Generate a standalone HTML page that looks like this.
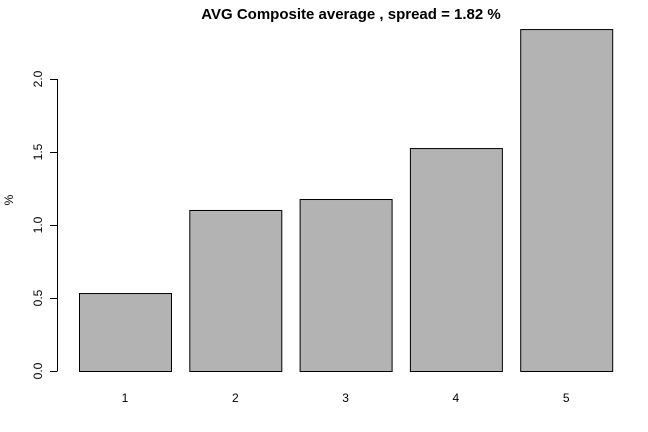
<!DOCTYPE html>
<html><head><meta charset="utf-8"><style>
body{margin:0;background:#fff}
svg{display:block;font-family:"Liberation Sans",Arial,sans-serif}
</style></head><body>
<svg id="chart" width="648" height="432" viewBox="0 0 648 432">
<text x="351" y="19" text-anchor="middle" font-size="15" font-weight="bold">AVG Composite average , spread = 1.82 %</text>
<text transform="translate(13,200) rotate(-90)" text-anchor="middle" font-size="12">%</text>
<g id="bars"></g>
<g id="yaxis"></g>
<g id="xlabels"></g>
</svg>
<script>
const categories = ["1","2","3","4","5"];
const values = [0.534, 1.103, 1.178, 1.527, 2.342];
const yTicks = [0, 0.5, 1.0, 1.5, 2.0];
const yTickLabels = ["0.0","0.5","1.0","1.5","2.0"];
const NS="http://www.w3.org/2000/svg";
function y(v){return 371 - v*146;}
function x(i){return 79 + i*110.3;}
const bw=92;
const bars=document.getElementById('bars');
values.forEach((v,i)=>{
  const r=document.createElementNS(NS,'rect');
  r.setAttribute('x',x(i)+0.5);r.setAttribute('y',y(v)+0.5);
  r.setAttribute('width',bw);r.setAttribute('height',y(0)-y(v));
  r.setAttribute('fill','#b3b3b3');r.setAttribute('stroke','#000');r.setAttribute('stroke-width','1');
  
  
  bars.appendChild(r);
  const t=document.createElementNS(NS,'text');
  t.setAttribute('x',x(i)+bw/2);t.setAttribute('y',402);
  t.setAttribute('text-anchor','middle');t.setAttribute('font-size','12');
  t.textContent=categories[i];
  
  
  document.getElementById('xlabels').appendChild(t);
});
const ya=document.getElementById('yaxis');
const ax=document.createElementNS(NS,'line');
ax.setAttribute('x1',57.5);ax.setAttribute('x2',57.5);
ax.setAttribute('y1',y(yTicks[0]));ax.setAttribute('y2',y(yTicks[yTicks.length-1]));
ax.setAttribute('stroke','#000');


ya.appendChild(ax);
yTicks.forEach((v,i)=>{
  const l=document.createElementNS(NS,'line');
  l.setAttribute('x1',50);l.setAttribute('x2',57.5);
  l.setAttribute('y1',y(v)+0.5);l.setAttribute('y2',y(v)+0.5);l.setAttribute('stroke','#000');
  
  
  ya.appendChild(l);
  const t=document.createElementNS(NS,'text');
  t.setAttribute('transform','translate(42,'+y(v)+') rotate(-90)');
  t.setAttribute('text-anchor','middle');t.setAttribute('font-size','12');
  t.textContent=yTickLabels[i];
  
  
  ya.appendChild(t);
});
</script>
</body></html>
